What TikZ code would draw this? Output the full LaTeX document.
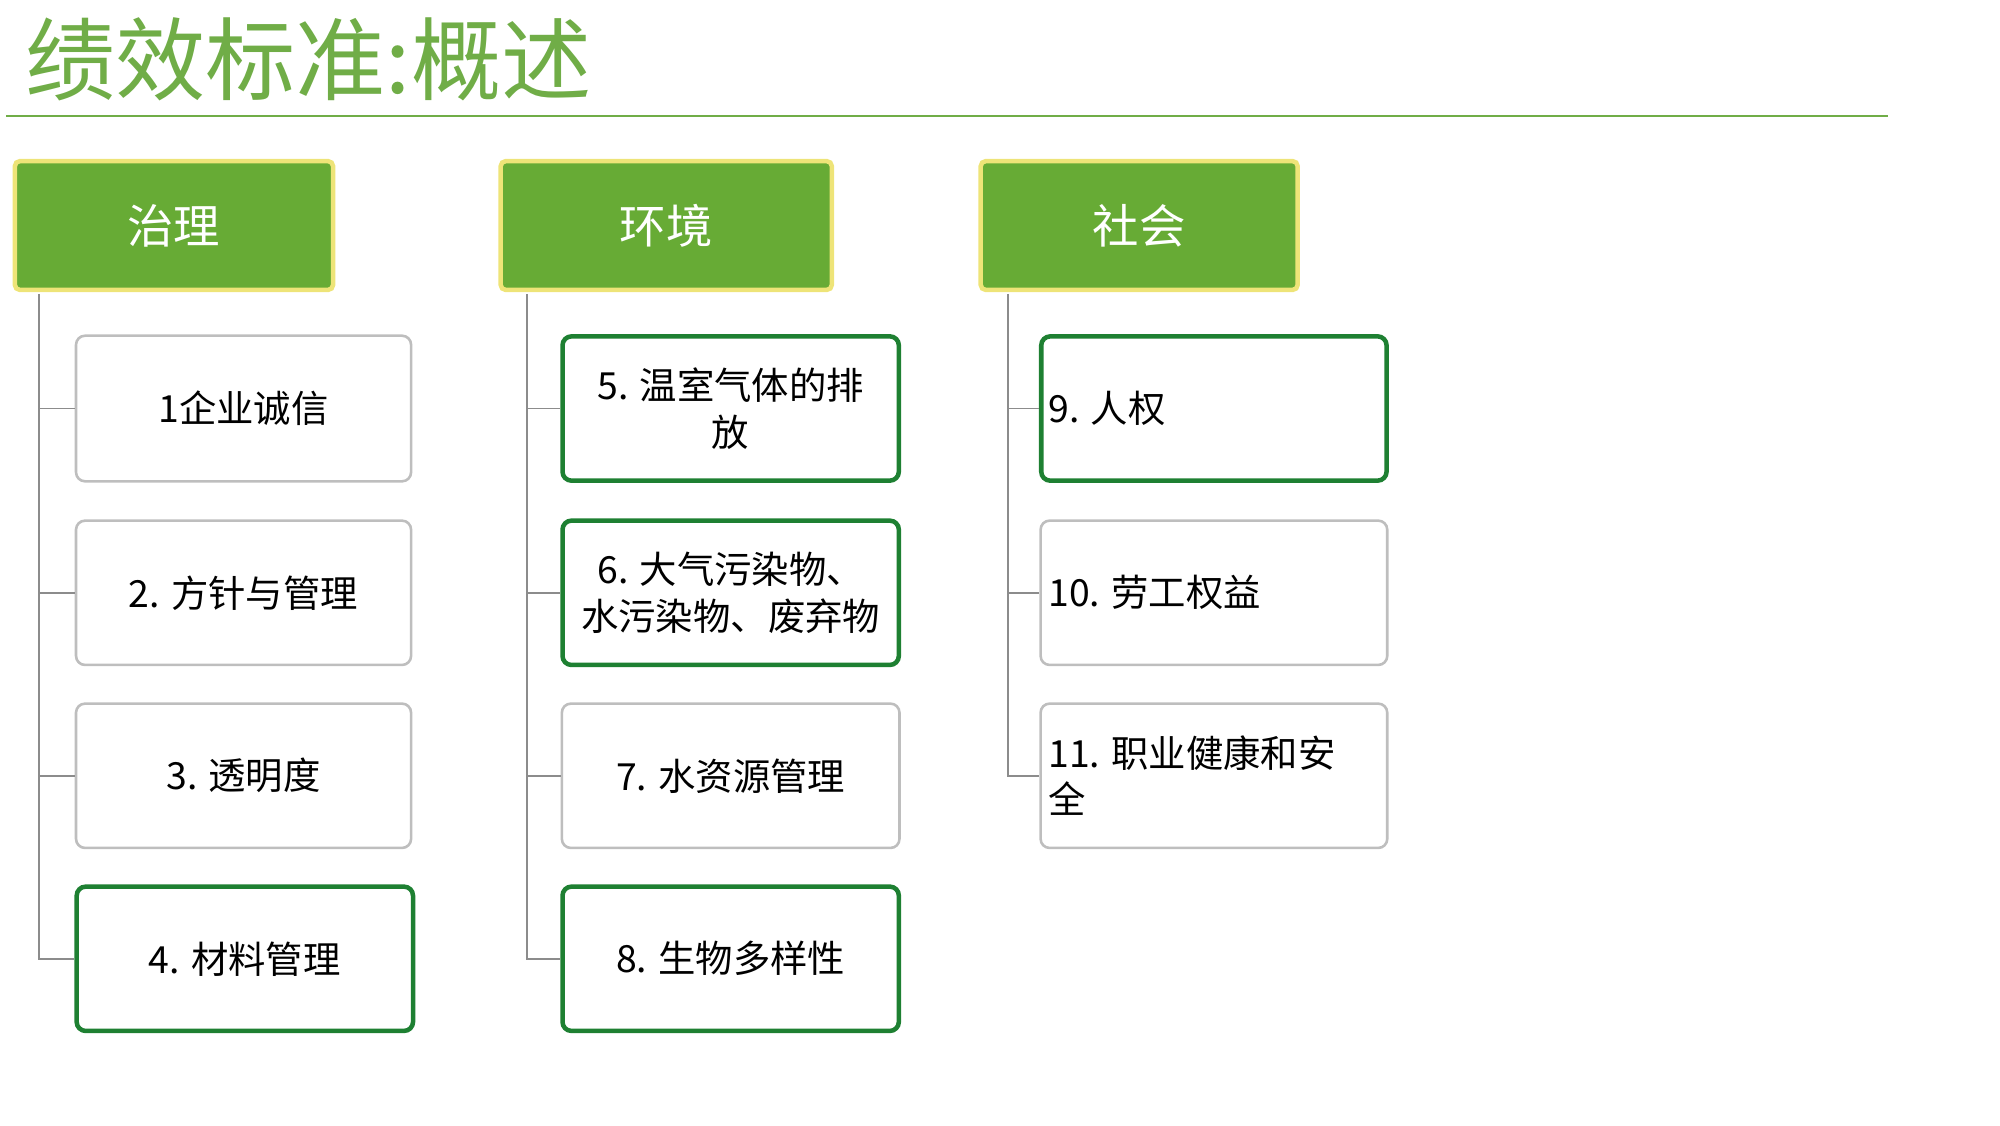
\documentclass[tikz,border=0pt]{standalone}
\usepackage{fontspec}
\setmainfont{Noto Sans CJK SC}
\begin{document}
\begin{tikzpicture}[x=1pt,y=-1pt]
\definecolor{tgreen}{RGB}{112,173,71}
\definecolor{hgreen}{RGB}{103,171,53}
\definecolor{hyel}{RGB}{238,228,120}
\definecolor{dgreen}{RGB}{30,128,50}
\definecolor{lgray}{RGB}{190,190,190}
\definecolor{tgray}{RGB}{140,140,140}
\tikzset{
 head/.style={draw=hyel,line width=3.5pt,fill=hgreen,rounded corners=4pt,text=white,font=\fontsize{36}{40}\selectfont},
 item/.style={draw=lgray,line width=2pt,rounded corners=7pt,fill=white,font=\fontsize{29}{36}\selectfont,align=center},
 hi/.style={draw=dgreen,line width=3.5pt},
 trunk/.style={draw=tgray,line width=1.5pt}
}
\useasboundingbox (0,0) rectangle (1552,873);
\node[anchor=west,text=tgreen,font=\fontsize{70}{74}\selectfont] (title) at (16,46) {绩效标准:概述};
\coordinate (l1) at (5,90); \coordinate (l2) at (1465,90);
\draw[tgreen,line width=2pt] (l1) -- (l2);
% headers
\node[head,minimum width=247,minimum height=100] (h1) at (135,175) {治理};
\node[head,minimum width=257,minimum height=100] (h2) at (517,175) {环境};
\node[head,minimum width=246,minimum height=100] (h3) at (884,175) {社会};
% column 1
\node[item,minimum width=260,minimum height=113] (a1) at (189,317) {1企业诚信};
\node[item,minimum width=260,minimum height=112] (a2) at (189,460) {2. 方针与管理};
\node[item,minimum width=260,minimum height=112] (a3) at (189,602) {3. 透明度};
\node[item,hi,minimum width=261,minimum height=112] (a4) at (190,744) {4. 材料管理};
% column 2
\node[item,hi,minimum width=261,minimum height=112] (b1) at (567,317) {5. 温室气体的排\\放};
\node[item,hi,minimum width=261,minimum height=112] (b2) at (567,460) {6. 大气污染物、\\水污染物、废弃物};
\node[item,minimum width=262,minimum height=112] (b3) at (567,602) {7. 水资源管理};
\node[item,hi,minimum width=261,minimum height=112] (b4) at (567,744) {8. 生物多样性};
% column 3
\node[item,hi,minimum width=268,minimum height=112] (c1) at (942,317) {};
\node[anchor=west,font=\fontsize{29}{36}\selectfont] (c1t) at (810,317) {9. 人权};
\node[item,minimum width=269,minimum height=112] (c2) at (942,460) {};
\node[anchor=west,font=\fontsize{29}{36}\selectfont] (c2t) at (810,460) {10. 劳工权益};
\node[item,minimum width=269,minimum height=112] (c3) at (942,602) {};
\node[anchor=west,align=left,font=\fontsize{29}{36}\selectfont] (c3t) at (810,602) {11. 职业健康和安\\全};
% trunks
\foreach \h/\x/\last/\list in {h1/30/a4/{a1,a2,a3,a4},h2/409/b4/{b1,b2,b3,b4},h3/782/c3/{c1,c2,c3}}{
  \draw[trunk] (\x,228) |- (\last.west);
  \foreach \n in \list { \draw[trunk] (\x,0 |- \n.west) -- (\n.west); }
}
\end{tikzpicture}
\end{document}
